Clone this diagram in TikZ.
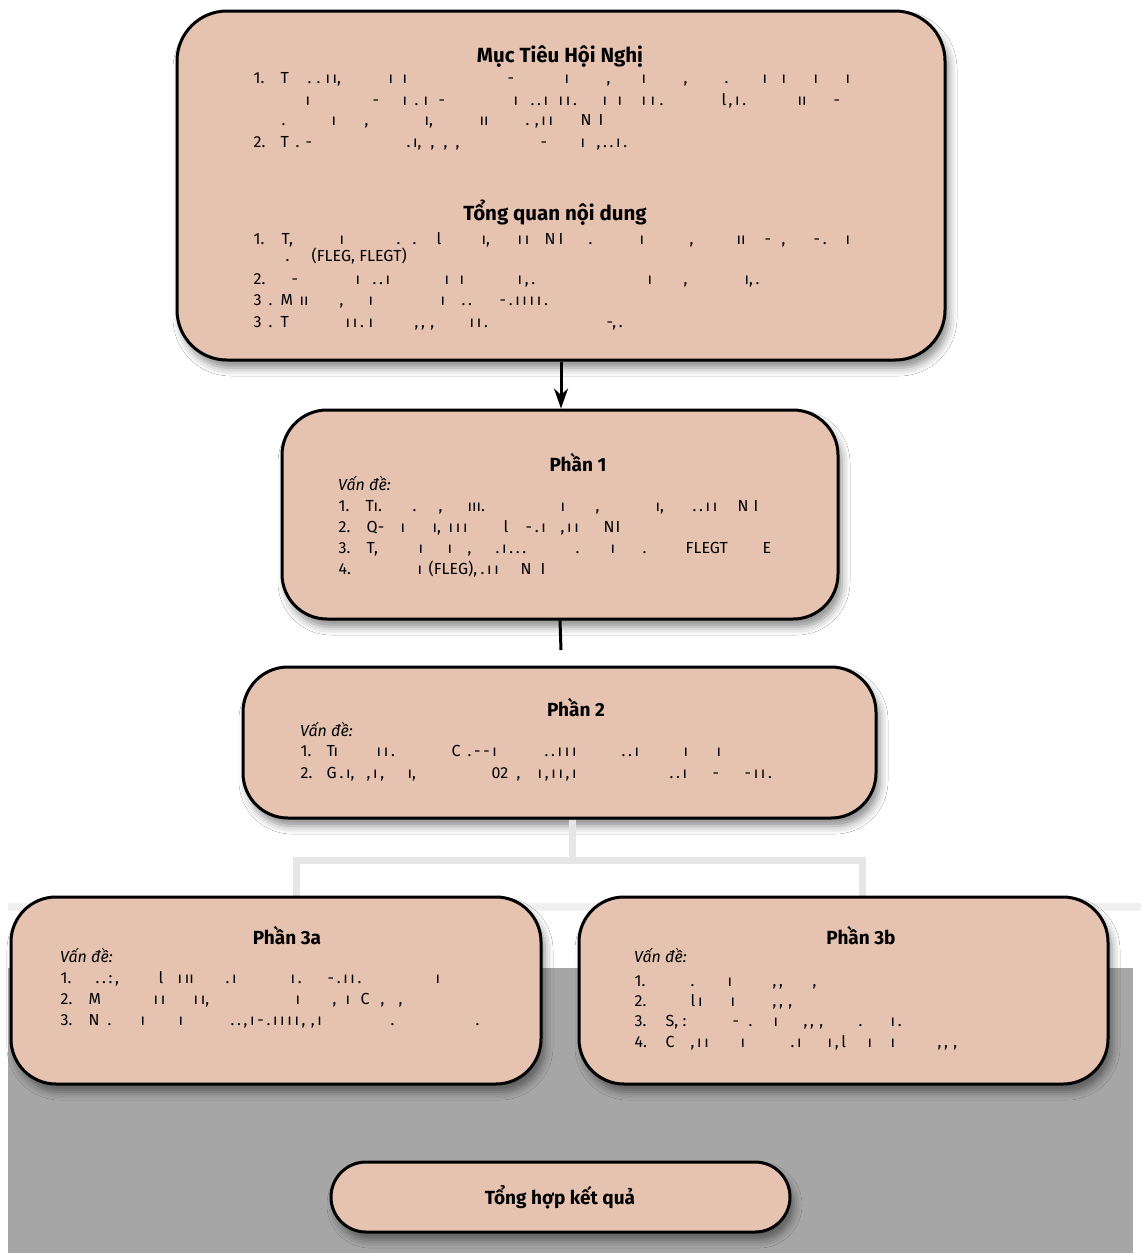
\documentclass[tikz,border=0pt]{standalone}
\usepackage{fontspec}
\setmainfont{Fira Sans}
\usetikzlibrary{shadows.blur,arrows.meta}
\definecolor{boxfill}{HTML}{E6C2B0}
\definecolor{bggray}{HTML}{A6A6A6}
\definecolor{faint}{HTML}{E6E6E6}
\newcommand\gl[2]{\rlap{\hspace*{#1pt}#2}}
\tikzset{
  box/.style={draw=black, line width=3pt, fill=boxfill, rounded corners=#1,
    blur shadow={shadow xshift=4pt, shadow yshift=-8pt, shadow blur radius=8pt, shadow opacity=45}},
  body/.style={anchor=base west, inner sep=0pt, font=\fontsize{16}{19}\selectfont},
  vd/.style={anchor=base west, inner sep=0pt, font=\itshape\fontsize{16}{19}\selectfont},
  ttl/.style={inner sep=0pt, font=\bfseries\fontsize{19}{22}\selectfont},
  bigttl/.style={inner sep=0pt, font=\bfseries\fontsize{20.5}{24}\selectfont},
  conn/.style={line width=3pt, draw=black},
  fconn/.style={line width=7pt, draw=faint}
}
\begin{document}
\begin{tikzpicture}[x=1pt,y=-1pt]
\useasboundingbox (0,0) rectangle (1141,1253);
% background
\fill[white] (0,0) rectangle (1141,1253);
\fill[black!6] (8,903) rectangle (1141,911);
\fill[bggray] (8,968) rectangle (1133,1253);

% faint connectors
\coordinate (fj) at (572,860);
\coordinate (fl) at (296,860);
\coordinate (fr) at (862,860);
\coordinate (fla) at (296,903);
\coordinate (fra) at (862,903);

% boxes
\node[box=50pt, minimum width=768pt, minimum height=349pt] (top) at (561,185.5) {};
\node[box=45pt, minimum width=556pt, minimum height=209pt] (p1) at (560,514.5) {};
\node[box=45pt, minimum width=633pt, minimum height=151pt] (p2) at (559.5,742.5) {};
\draw[fconn] (fj |- p2.south) -- (fj);
\draw[fconn] (fla) -- (fl) -- (fr) -- (fra);
\node[box=45pt, minimum width=530pt, minimum height=187pt] (p3a) at (276,990.5) {};
\node[box=45pt, minimum width=529pt, minimum height=187pt] (p3b) at (843.5,990.5) {};
\node[box=35pt, minimum width=459pt, minimum height=70pt] (sum) at (560.5,1197) {};

% connectors
\draw[conn, -{Stealth[length=20pt,width=14pt]}] (top.south) -- (top.south |- p1.north);
\coordinate (p1end) at (561,650);
\draw[conn] (p1.south) -- (p1end);

% top box texts
\node[bigttl] (t1) at (560,57) {Mục Tiêu Hội Nghị};
\node[body] (a1) at (253,83) {\gl{0}{1.}\gl{27}{T}\gl{54}{.}\gl{63}{.}\gl{72}{ı}\gl{79}{ı,}\gl{135}{ı}\gl{149}{ı}\gl{254}{-}\gl{311}{ı}\gl{353}{,}\gl{388}{ı}\gl{430}{,}\gl{471}{.}\gl{509}{ı}\gl{528}{ı}\gl{560}{ı}\gl{592}{ı}};
\node[body] (a2) at (253,105) {\gl{52}{ı}\gl{119}{-}\gl{149}{ı}\gl{161}{.}\gl{170}{ı}\gl{185}{-}\gl{260}{ı}\gl{277}{.\,.\,ı}\gl{305}{ı\,ı\,.}\gl{349}{ı}\gl{364}{ı}\gl{388}{ı}\gl{397}{ı}\gl{406}{.}\gl{468}{l}\gl{475}{,\,ı\,.}\gl{544}{ıı}\gl{580}{-}};
\node[body] (a3) at (253,125) {\gl{28}{.}\gl{78}{ı}\gl{111}{,}\gl{171}{ı,}\gl{226}{ıı}\gl{272}{.\,\,,\,ı\,ı}\gl{327}{N}\gl{345}{I}};
\node[body] (a4) at (253,147) {\gl{0}{2.}\gl{27}{T}\gl{42}{.}\gl{52}{-}\gl{153}{.\,ı,}\gl{177}{,}\gl{190}{,}\gl{202}{,}\gl{287}{-}\gl{327}{ı}\gl{343}{,\,.\,.\,ı\,.}};

\node[bigttl] (t2) at (555,213) {Tổng quan nội dung};
\node[body] (b1) at (253,244) {\gl{0}{1.}\gl{28}{T,}\gl{86}{ı}\gl{143}{.}\gl{159}{.}\gl{183}{l}\gl{228}{ı,}\gl{264}{ı\,ı}\gl{291}{N}\gl{305}{I}\gl{335}{.}\gl{386}{ı}\gl{436}{,}\gl{483}{ıı}\gl{511}{-}\gl{528}{,}\gl{560}{-\,.}\gl{592}{ı}};
\node[body] (b2) at (253,261) {\gl{32}{.}\gl{58}{(FLEG, FLEGT)}};
\node[body] (b3) at (253,284) {\gl{0}{2.}\gl{38}{-}\gl{102}{ı}\gl{119}{.\,.\,ı}\gl{191}{ı}\gl{206}{ı}\gl{264}{ı\,,\,.}\gl{394}{ı}\gl{430}{,}\gl{491}{ı,\,.}};
\node[body] (b4) at (253,305) {\gl{0}{3}\gl{15}{.}\gl{27}{M}\gl{46}{ıı}\gl{86}{,}\gl{115}{ı}\gl{187}{ı}\gl{208}{.\,.}\gl{246}{-\,.\,ı\,ı\,ı\,ı\,.}};
\node[body] (b5) at (253,327) {\gl{0}{3}\gl{15}{.}\gl{27}{T}\gl{92}{ı\,ı\,.}\gl{115}{ı}\gl{161}{,\,,\,\,,}\gl{216}{ı\,ı\,.}\gl{353}{-,\,.}};

% Phan 1
\node[ttl] (t3) at (578,463) {Phần 1};
\node[vd] (v1) at (338,490) {Vấn đề:};
\node[body] (c1) at (338,511) {\gl{0}{1.}\gl{27}{T}\gl{35}{ı.}\gl{74}{.}\gl{100}{,}\gl{129}{ııı.}\gl{222}{ı}\gl{257}{,}\gl{317}{ı,}\gl{354}{.\,.\,ı\,ı}\gl{399}{N}\gl{415}{I}};
\node[body] (c2) at (338,532) {\gl{0}{2.}\gl{28}{Q-}\gl{62}{ı}\gl{94}{ı,}\gl{110}{ı\,ı\,ı}\gl{165}{l}\gl{187}{-\,.\,ı}\gl{222}{,\,ı\,ı}\gl{265}{N}\gl{277}{I}};
\node[body] (c3) at (338,553) {\gl{0}{3.}\gl{28}{T,}\gl{80}{ı}\gl{109}{ı}\gl{129}{,}\gl{157}{.\,ı\,.\,.\,.}\gl{237}{.}\gl{272}{ı}\gl{304}{.}\gl{347}{FLEGT}\gl{424}{E}};
\node[body] (c4) at (338,574) {\gl{0}{4.}\gl{79}{ı}\gl{90}{(FLEG),}\gl{142}{.\,ı\,ı}\gl{182}{N}\gl{202}{I}};

% Phan 2
\node[ttl] (t4) at (576,708) {Phần 2};
\node[vd] (v2) at (300,736) {Vấn đề:};
\node[body] (d1) at (300,756) {\gl{0}{1.}\gl{26}{T}\gl{33}{ı}\gl{76}{ı\,ı\,.}\gl{151}{C}\gl{167}{.\,-\,-\,ı}\gl{244}{.\,.\,ı\,ı\,ı}\gl{321}{.\,.\,ı}\gl{383}{ı}\gl{416}{ı}};
\node[body] (d2) at (300,778) {\gl{0}{2.}\gl{26}{G}\gl{39}{.\,ı,}\gl{66}{,\,ı\,,}\gl{107}{ı,}\gl{191}{02}\gl{216}{,}\gl{237}{ı\,,\,ı\,ı\,,\,ı}\gl{369}{.\,.\,ı}\gl{412}{-}\gl{444}{-\,ı\,ı\,.}};

% Phan 3a
\node[ttl] (t5) at (287,936) {Phần 3a};
\node[vd] (v3) at (60,962) {Vấn đề:};
\node[body] (e1) at (60,983) {\gl{0}{1.}\gl{35}{.\,.\,:\,,}\gl{98}{l}\gl{117}{ı\,ıı}\gl{165}{.\,ı}\gl{230}{ı\,.}\gl{267}{-\,.\,ı\,ı\,.}\gl{375}{ı}};
\node[body] (e2) at (60,1004) {\gl{0}{2.}\gl{28}{M}\gl{93}{ı\,ı}\gl{133}{ı\,ı,}\gl{235}{ı}\gl{272}{,}\gl{285}{ı}\gl{300}{C}\gl{320}{,}\gl{338}{,}};
\node[body] (e3) at (60,1025) {\gl{0}{3.}\gl{28}{N}\gl{47}{.}\gl{80}{ı}\gl{118}{ı}\gl{170}{.\,.\,,\,ı\,-\,.\,ı\,ı\,ı\,ı\,,\,\,,\,ı}\gl{330}{.}\gl{415}{.}};

% Phan 3b
\node[ttl] (t6) at (861,936) {Phần 3b};
\node[vd] (v4) at (634,962) {Vấn đề:};
\node[body] (f1) at (634,986) {\gl{0}{1.}\gl{56}{.}\gl{93}{ı}\gl{138}{,\,,}\gl{178}{,}};
\node[body] (f2) at (634,1006) {\gl{0}{2.}\gl{56}{l\,ı}\gl{96}{ı}\gl{138}{,\,,\,\,,}};
\node[body] (f3) at (634,1026) {\gl{0}{3.}\gl{31}{S,}\gl{48}{:}\gl{98}{-}\gl{114}{.}\gl{139}{ı}\gl{169}{,\,,\,\,,}\gl{224}{.}\gl{256}{ı\,.}};
\node[body] (f4) at (634,1047) {\gl{0}{4.}\gl{31}{C}\gl{56}{,\,ı\,ı}\gl{106}{ı}\gl{156}{.\,ı}\gl{193}{ı\,,\,l}\gl{233}{ı}\gl{256}{ı}\gl{303}{,\,,\,\,,}};

% summary
\node[ttl] (t7) at (560,1197) {Tổng hợp kết quả};
\end{tikzpicture}
\end{document}
